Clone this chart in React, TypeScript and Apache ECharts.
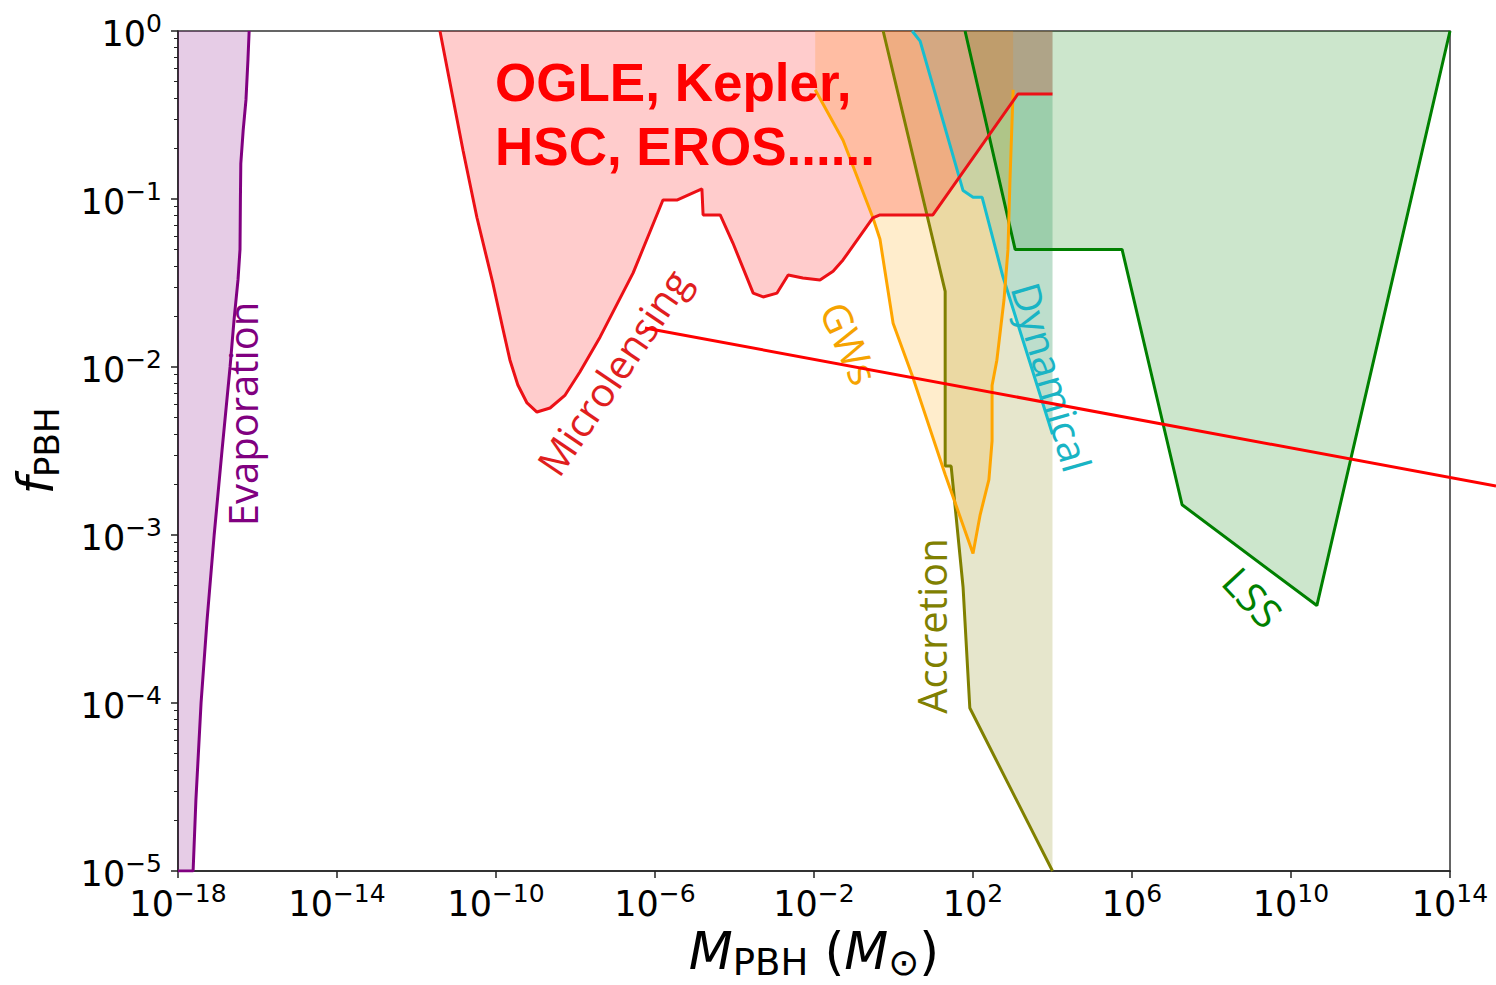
import React, { useEffect, useRef } from "react";
import * as echarts from "echarts";

type Pt = [number, number];

// ---- Axis ticks (exponents of 10) ----
const xTickExponents = [-18, -14, -10, -6, -2, 2, 6, 10, 14];
const yTickExponents = [-5, -4, -3, -2, -1, 0];

// ---- Constraint curves: [log10(M_PBH / M_sun), log10(f_PBH)] ----
const evaporationCurve: Pt[] = [
  [-18, -5], [-17.62, -5], [-17.55, -4.58], [-17.42, -4], [-17.27, -3.51], [-17.09, -3],
  [-16.89, -2.49], [-16.69, -2], [-16.59, -1.72], [-16.49, -1.48], [-16.44, -1.3],
  [-16.43, -1.0], [-16.42, -0.79], [-16.36, -0.59], [-16.29, -0.41], [-16.24, -0.17], [-16.21, 0],
];

const microlensingCurve: Pt[] = [
  [-11.41, 0], [-10.83, -0.71], [-10.48, -1.11], [-10.08, -1.5], [-9.82, -1.78],
  [-9.65, -1.958], [-9.45, -2.107], [-9.22, -2.214], [-8.97, -2.268], [-8.64, -2.244],
  [-8.26, -2.167], [-7.89, -2.03], [-7.38, -1.821], [-6.55, -1.44], [-5.8, -1.006],
  [-5.45, -1.006], [-4.82, -0.94], [-4.79, -1.095], [-4.36, -1.095], [-4.04, -1.262],
  [-3.53, -1.56], [-3.28, -1.583], [-2.93, -1.56], [-2.65, -1.452], [-2.28, -1.47],
  [-1.85, -1.482], [-1.52, -1.43], [-1.27, -1.363], [-0.52, -1.113], [-0.34, -1.095],
  [0.99, -1.095], [3.13, -0.375], [4.0, -0.375],
];

const gwCurve: Pt[] = [
  [-1.97, -0.35], [-1.27, -0.65], [-0.52, -1.11], [-0.34, -1.24], [-0.01, -1.74],
  [0.47, -2.05], [1.3, -2.64], [2.0, -3.11], [2.18, -2.88], [2.4, -2.67], [2.48, -2.44],
  [2.48, -2.11], [2.6, -1.96], [2.78, -1.6], [2.88, -1.3], [2.93, -0.89], [3.01, -0.35],
];

const accretionCurve: Pt[] = [
  [-0.26, 0], [1.3, -1.55], [1.3, -2.59], [1.45, -2.59], [1.75, -3.31], [1.92, -4.03], [4.0, -5],
];

const dynamicalCurve: Pt[] = [
  [0.47, 0], [0.67, -0.06], [1.75, -0.95], [2.0, -0.99], [2.23, -0.99], [2.75, -1.46], [4.0, -2.4],
];

const lssCurve: Pt[] = [
  [1.8, 0], [3.06, -1.3], [5.75, -1.3], [7.26, -2.82], [10.65, -3.42], [14, 0],
];

// ---- Region table built from the curves (drawing order) ----
const regions = [
  { name: "Evaporation", color: "#800080", line: "#800080", curve: evaporationCurve, fill: [...evaporationCurve, [-18, 0]] as Pt[] },
  { name: "LSS", color: "#008000", line: "#008000", curve: lssCurve, fill: lssCurve },
  { name: "Accretion", color: "#808000", line: "#808000", curve: accretionCurve, fill: [...accretionCurve, [4.0, 0]] as Pt[] },
  { name: "Dynamical", color: "#17becf", line: "#17becf", curve: dynamicalCurve, fill: [...dynamicalCurve, [4.0, 0]] as Pt[] },
  { name: "GWs", color: "#ffa500", line: "#ffa500", curve: gwCurve, fill: [[-1.97, 0], ...gwCurve, [3.01, 0]] as Pt[] },
  { name: "Microlensing", color: "#ff0000", line: "#ec1016", curve: microlensingCurve, fill: [...microlensingCurve, [4.0, 0]] as Pt[] },
];

function hexToRgba(hex: string, a: number) {
  const r = parseInt(hex.slice(1, 3), 16);
  const g = parseInt(hex.slice(3, 5), 16);
  const b = parseInt(hex.slice(5, 7), 16);
  return `rgba(${r},${g},${b},${a})`;
}

const minorY: number[] = [];
for (let n = -5; n < 0; n++) {
  for (let k = 2; k <= 9; k++) minorY.push(n + Math.log10(k));
}

const supLabel = (v: number) => {
  const e = Math.round(v);
  const s = e < 0 ? "\u2212" + Math.abs(e) : String(e);
  return `{b|10}{s|${s}}`;
};

const tickRich = {
  b: { fontSize: 35, fontFamily: "DejaVu Sans", lineHeight: 40, verticalAlign: "bottom", color: "#000" },
  s: { fontSize: 25, fontFamily: "DejaVu Sans", lineHeight: 20, verticalAlign: "top", color: "#000" },
};

export default function App() {
  const ref = useRef<HTMLDivElement>(null);

  useEffect(() => {
    document.body.style.margin = "0";
    if (!ref.current) return;
    const chart = echarts.init(ref.current, undefined, { renderer: "svg" });

    const fillSeries = regions.map((r, i) => ({
      type: "custom",
      name: r.name + " region",
      coordinateSystem: "cartesian2d",
      xAxisIndex: 0,
      yAxisIndex: 0,
      data: r.fill,
      silent: true,
      clip: true,
      z: 2 + i,
      renderItem: (params: any, api: any) => {
        if (params.dataIndex !== 0) return null;
        return {
          type: "polygon",
          shape: { points: r.fill.map((p) => api.coord(p)) },
          style: { fill: hexToRgba(r.color, 0.2), stroke: "none" },
        };
      },
    }));

    const lineSeries = regions.map((r) => ({
      type: "line",
      name: r.name,
      xAxisIndex: 0,
      yAxisIndex: 0,
      data: r.curve,
      showSymbol: false,
      symbol: "none",
      silent: true,
      clip: true,
      z: 20,
      lineStyle: { color: r.line, width: 3 },
    }));

    const labelFont = '"Open Sans", "DejaVu Sans", sans-serif';
    const curveLabel = (text: string, x: number, y: number, deg: number, fill: string) => ({
      type: "text",
      x,
      y,
      rotation: (deg * Math.PI) / 180,
      z: 50,
      silent: true,
      style: { text, fill, fontSize: 40, fontFamily: labelFont, align: "center", verticalAlign: "middle" },
    });

    chart.setOption({
      animation: false,
      backgroundColor: "#ffffff",
      grid: {
        left: 178,
        right: 46,
        top: 31,
        bottom: 114,
        show: true,
        borderColor: "#333",
        borderWidth: 1.5,
        backgroundColor: "transparent",
        containLabel: false,
        outerBoundsMode: "none",
      },
      xAxis: {
        type: "value",
        min: -18,
        max: 14,
        position: "bottom",
        axisLine: { show: true, onZero: false, lineStyle: { color: "#222", width: 1.5 } },
        axisTick: { show: true, customValues: xTickExponents, length: 7, lineStyle: { color: "#222", width: 1.5 } },
        axisLabel: {
          customValues: xTickExponents,
          margin: 10,
          formatter: (v: number) => supLabel(v),
          rich: tickRich,
        },
        splitLine: { show: false },
        name: "{i|M}{s|PBH}{n| (}{i|M}{s|\u2299}{n|)}",
        nameLocation: "middle",
        nameGap: 49,
        nameTextStyle: {
          color: "#000",
          fontFamily: "DejaVu Sans",
          fontSize: 51,
          rich: {
            i: { fontStyle: "italic", fontSize: 51, fontFamily: "DejaVu Sans", lineHeight: 60, color: "#000" },
            n: { fontSize: 51, fontFamily: "DejaVu Sans", lineHeight: 60, color: "#000" },
            s: { fontSize: 37, fontFamily: "DejaVu Sans", lineHeight: 30, verticalAlign: "bottom", color: "#000" },
          },
        },
      },
      yAxis: [
        {
          type: "value",
          min: yTickExponents[0],
          max: yTickExponents[yTickExponents.length - 1],
          interval: 1,
          position: "left",
          axisLine: { show: true, onZero: false, lineStyle: { color: "#222", width: 1.5 } },
          axisTick: { show: true, length: 7, lineStyle: { color: "#222", width: 1.5 } },
          axisLabel: {
            margin: 16,
            formatter: (v: number) => supLabel(v),
            rich: tickRich,
          },
          splitLine: { show: false },
          name: "{i|f}{s|PBH}",
          nameLocation: "middle",
          nameRotate: 90,
          nameGap: 114,
          nameTextStyle: {
            color: "#000",
            fontFamily: "DejaVu Sans",
            fontSize: 50,
            rich: {
              i: { fontStyle: "italic", fontSize: 50, fontFamily: "DejaVu Sans", lineHeight: 56, color: "#000" },
              s: { fontSize: 34, fontFamily: "DejaVu Sans", lineHeight: 30, verticalAlign: "bottom", color: "#000" },
            },
          },
        },
        {
          type: "value",
          min: -5,
          max: 0,
          position: "left",
          axisLine: { show: false, onZero: false },
          axisTick: { show: true, customValues: minorY, length: 4, lineStyle: { color: "#222", width: 1 } },
          axisLabel: { show: false },
          splitLine: { show: false },
        },
      ],
      series: [...fillSeries, ...lineSeries],
      graphic: [
        curveLabel("Evaporation", 242, 414, 90, "#800080"),
        curveLabel("Microlensing", 613, 372, 56, "#e01e1e"),
        curveLabel("GWs", 850, 343, -66, "#f5a300"),
        curveLabel("Dynamical", 1052, 377, -74, "#19b4c4"),
        curveLabel("Accretion", 931, 626, 90, "#808000"),
        curveLabel("LSS", 1253, 597, -47, "#008000"),
        {
          type: "line",
          z: 60,
          silent: true,
          shape: { x1: 645, y1: 328, x2: 1496, y2: 486 },
          style: { stroke: "#ff0000", lineWidth: 3 },
        },
        {
          type: "text",
          x: 495,
          y: 50,
          z: 60,
          silent: true,
          style: {
            text: "OGLE, Kepler,\nHSC, EROS......",
            fill: "#ff0000",
            fontSize: 53,
            fontWeight: "bold",
            fontFamily: '"Liberation Sans", Arial, sans-serif',
            lineHeight: 64,
            align: "left",
            verticalAlign: "top",
          },
        },
      ],
    });

    return () => chart.dispose();
  }, []);

  return <div ref={ref} style={{ width: 1496, height: 985 }} />;
}
